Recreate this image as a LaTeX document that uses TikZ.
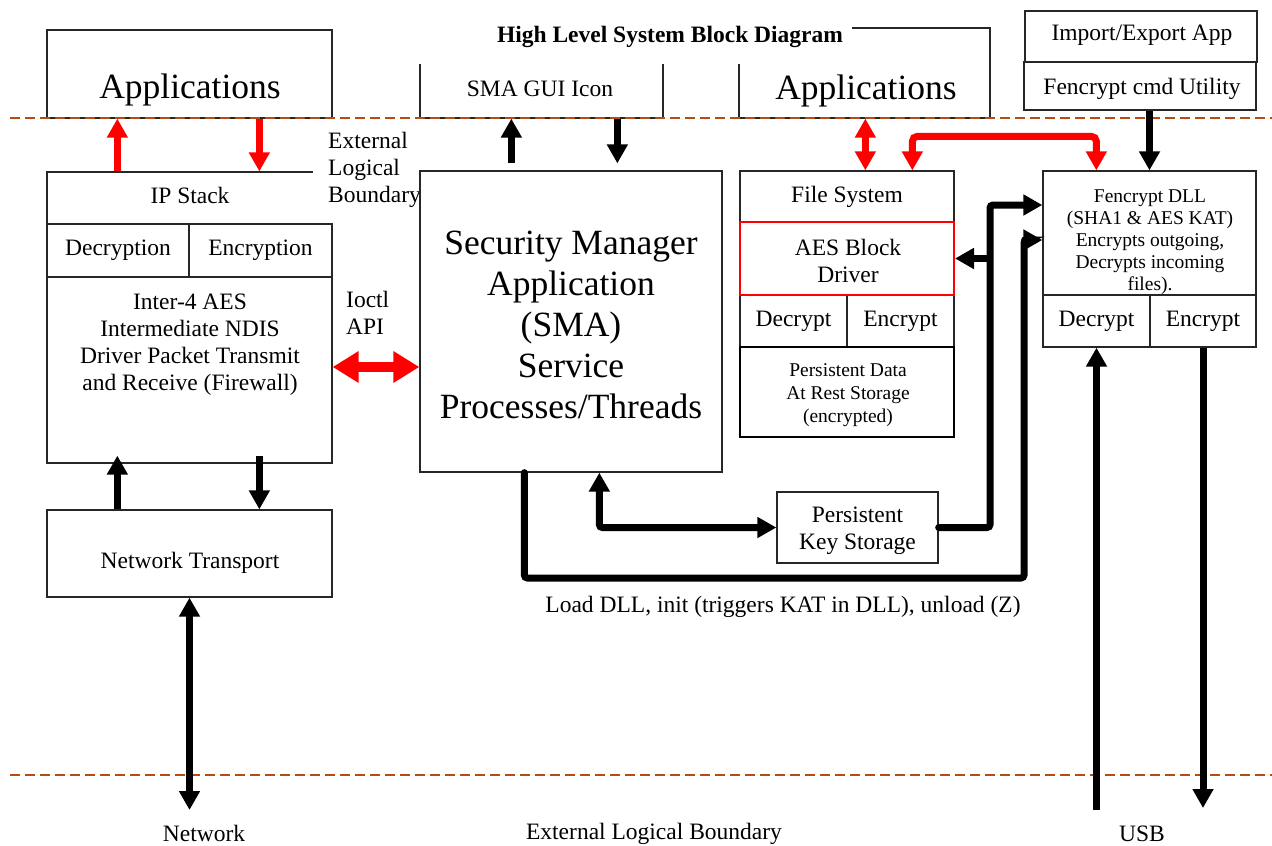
\documentclass[tikz,border=0pt]{standalone}
\usepackage{fontspec}
\setmainfont{Liberation Serif}
\usetikzlibrary{arrows.meta,calc}
\newcommand\fReg{\fontsize{23.5}{27}\selectfont}
\newcommand\fBig{\fontsize{35.5}{41}\selectfont}
\newcommand\fSm{\fontsize{19.5}{22}\selectfont}
\newcommand\fSmB{\fontsize{19.5}{23}\selectfont}
\definecolor{bnd}{RGB}{184,74,20}
\definecolor{rd}{RGB}{255,0,0}
\begin{document}
\begin{tikzpicture}[x=1pt,y=-1pt,
 box/.style={draw=black!85, line width=1.3pt, inner sep=0pt, align=center, font=\fReg},
 txt/.style={inner sep=0pt, align=center, font=\fReg},
 blk/.style={line width=7pt, -{Triangle[length=19pt,width=20pt]}},
 blktwo/.style={line width=7pt, {Triangle[length=19pt,width=20pt]}-{Triangle[length=19pt,width=20pt]}},
 redone/.style={draw=rd, line width=7pt, -{Triangle[length=19pt,width=20pt]}},
 redtwo/.style={draw=rd, line width=7pt, {Triangle[length=19pt,width=20pt]}-{Triangle[length=19pt,width=20pt]}},
 redbig/.style={draw=rd, line width=10pt, {Triangle[length=26pt,width=30pt]}-{Triangle[length=26pt,width=30pt]}},
 bdash/.style={draw=bnd, line width=2pt, dash pattern=on 10pt off 5pt}]
\useasboundingbox (0,0) rectangle (1272,846);

% top row
\node[box, minimum width=285pt, minimum height=88pt] (appL) at (189.5,74) {};
\node[txt, font=\fBig] (appLt) at (190,90) {Applications};
\node[box, minimum width=243pt, minimum height=88pt] (smagui) at (541.5,74) {};
\node[txt] (smaguit) at (540,89) {SMA GUI Icon};
\node[box, minimum width=251pt, minimum height=90pt] (appR) at (864.5,73) {};
\node[txt, font=\fBig] (appRt) at (866,91) {Applications};
\node[box, minimum width=232pt, minimum height=51pt] (impexp) at (1141,36.5) {};
\node[txt] (impexpt) at (1142,35) {Import/Export App};
\node[box, minimum width=232pt, minimum height=48pt] (fcmd) at (1140,86) {};
\node[txt] (fcmdt) at (1142,89) {Fencrypt cmd Utility};

% left column
\node[box, minimum width=285pt, minimum height=52pt] (ipstack) at (189.5,198) {};
\node[txt] (ipstackt) at (190,195) {IP Stack};
\node[box, minimum width=142pt, minimum height=53pt] (decL) at (118,250.5) {Decryption};
\node[box, minimum width=143pt, minimum height=53pt] (encL) at (260.5,250.5) {Encryption};
\node[box, minimum width=285pt, minimum height=186pt] (inter) at (189.5,370) {};
\node[txt] (intert) at (190,345) {Inter-4 AES\\Intermediate NDIS\\Driver Packet Transmit\\and Receive (Firewall)};
\node[box, minimum width=285pt, minimum height=87pt] (nettr) at (189.5,553.5) {};
\node[txt] (nettrt) at (190,563) {Network Transport};

\fill[white] (313,120) rectangle (419,223);
\node[txt, align=left, anchor=west] (elb) at (328,170) {External\\Logical\\Boundary};
\node[txt, align=left, anchor=west] (ioctl) at (346,313) {Ioctl\\API};

% SMA
\node[box, minimum width=302pt, minimum height=301pt] (sma) at (571,321.5) {};
\node[txt, font=\fBig] (smat) at (571,325) {Security Manager\\Application\\(SMA)\\Service\\Processes/Threads};

% middle column
\node[box, minimum width=214pt, minimum height=51pt] (fs) at (847,196.5) {File System};
\node[box, minimum width=107pt, minimum height=52pt] (decM) at (793.5,321) {Decrypt};
\node[box, minimum width=107pt, minimum height=52pt] (encM) at (900.5,321) {Encrypt};
\node[box, draw=rd, line width=2pt, minimum width=214pt, minimum height=73pt] (aes) at (847,258.5) {};
\node[txt] (aest) at (848,261) {AES Block\\Driver};
\node[box, draw=black, line width=2.2pt, minimum width=214pt, minimum height=90pt] (pdata) at (847,392) {};
\node[txt, font=\fSmB] (pdatat) at (848,395) {Persistent Data\\At Rest Storage\\(encrypted)};

% right column
\node[box, minimum width=213pt, minimum height=124pt] (dll) at (1149.5,233) {};
\node[txt, font=\fSm] (dllt) at (1150,242) {Fencrypt DLL\\(SHA1 \& AES KAT)\\Encrypts outgoing,\\Decrypts incoming\\files).};
\node[box, minimum width=107pt, minimum height=52pt] (decR) at (1096.5,321) {Decrypt};
\node[box, minimum width=106pt, minimum height=52pt] (encR) at (1203,321) {Encrypt};

\node[box, minimum width=161pt, minimum height=71pt] (pks) at (857.5,527.5) {};
\node[txt] (pkst) at (857.5,530.5) {Persistent\\Key Storage};

% title
\fill[white] (414,0) rectangle (852,64);
\node[txt, font=\fReg\bfseries] (title) at (670,37) {High Level System Block Diagram};

% boundaries
\draw[bdash] (10,118) -- (1272,118);
\draw[bdash] (10,775) -- (1272,775);

% labels
\node[txt] (loadlbl) at (783,607) {Load DLL, init (triggers KAT in DLL), unload (Z)};
\node[txt] (netlbl) at (204,833) {Network};
\node[txt] (elbtwo) at (654,834) {External Logical Boundary};
\node[txt] (usblbl) at (1142,834) {USB};

% coordinates
\coordinate (netend) at (189.5,810);
\coordinate (usbin) at (1096.5,810);
\coordinate (usbout) at (1203,808);
\coordinate (jA) at (990,205);
\coordinate (jB) at (1024,578);
\coordinate (jC) at (1024,240);
\coordinate (io) at ([yshift=3pt]inter.east);

% left connectors
\draw[redone] ([xshift=71pt]ipstack.north west) -- ([xshift=71pt]appL.south west);
\draw[redone] ([xshift=213pt]appL.south west) -- ([xshift=213pt]ipstack.north west);
\draw[blk] ([xshift=71pt]nettr.north west) -- ([xshift=71pt,yshift=8pt]inter.south west);
\draw[blk] ([xshift=213pt,yshift=8pt]inter.south west) -- ([xshift=213pt]nettr.north west);
\draw[blktwo] (nettr.south) -- (netend);
\draw[redbig] (io) -- (io -| sma.west);

% SMA connectors
\draw[blk] ([xshift=92pt,yshift=7pt]sma.north west) -- ([xshift=92pt]smagui.south west);
\draw[blk] ([xshift=198pt]smagui.south west) -- ([xshift=198pt,yshift=7pt]sma.north west);
\draw[blktwo, rounded corners=3pt] ([xshift=180pt]sma.south west) |- (pks.west);
\draw[blk, line cap=round, rounded corners=3pt] ([xshift=105pt]sma.south west) |- (jB) -- (jC) -- (jC -| dll.west);
\draw[blk, line cap=round, rounded corners=3pt] (pks.east) -| (jA) -- (jA -| dll.west);
\draw[blk] (jA |- aes.east) -- (aes.east);

% top-right connectors
\draw[redtwo] ([xshift=127pt]appR.south west) -- ([xshift=126pt]fs.north west);
\draw[redtwo, rounded corners=5pt] ([xshift=173pt]fs.north west) -- ++(0,-34) -| ([xshift=54pt]dll.north west);
\draw[blk] (dll.north |- fcmd.south) -- (dll.north);

% USB
\draw[blk] (usbin) -- (decR.south);
\draw[blk] (encR.south) -- (usbout);
\end{tikzpicture}
\end{document}
